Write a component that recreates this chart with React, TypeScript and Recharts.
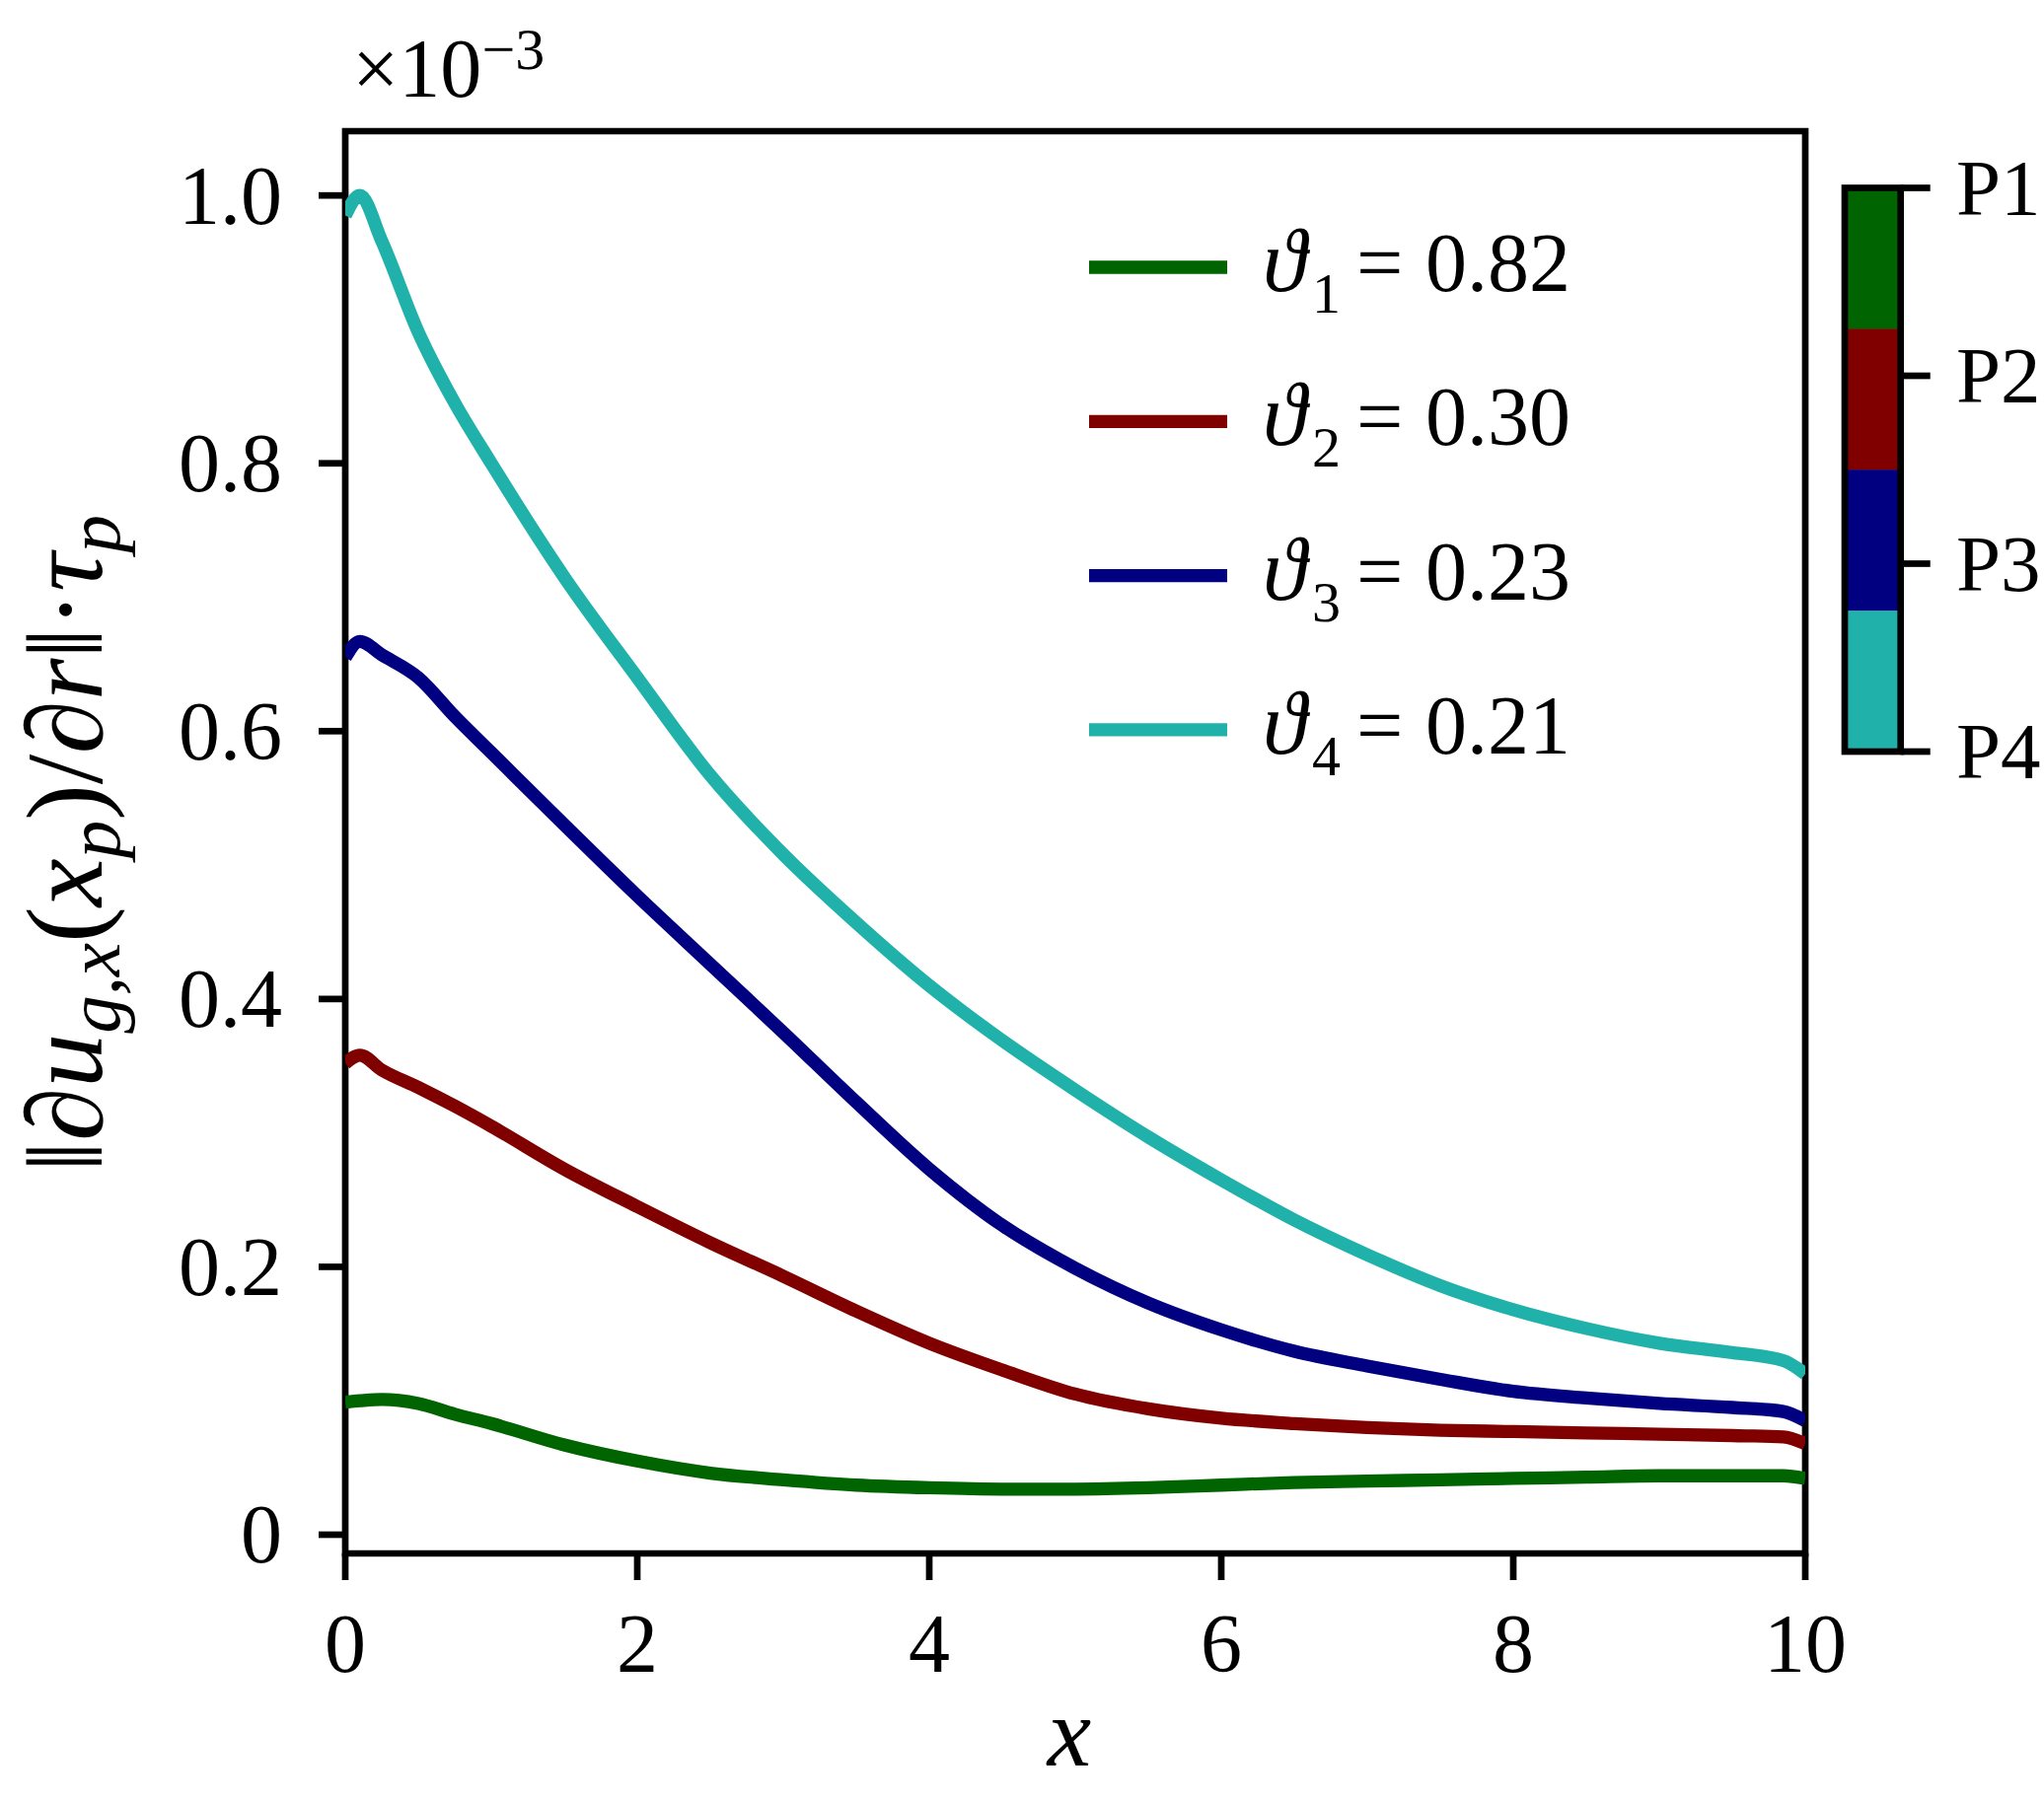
import React from 'react'
import { LineChart, Line, XAxis, YAxis, ReferenceArea, Legend } from 'recharts'

// x positions shared by all four curves
const xValues = [0, 0.1, 0.25, 0.5, 0.75, 1, 1.5, 2, 2.5, 3, 3.5, 4, 4.5, 5, 5.5, 6, 6.5, 7, 7.5, 8, 8.5, 9, 9.5, 9.85, 10]

// values in units of 1e-3
const theta1 = [0.099, 0.1, 0.101, 0.098, 0.09, 0.083, 0.067, 0.055, 0.046, 0.041, 0.037, 0.035, 0.034, 0.034, 0.035, 0.037, 0.039, 0.04, 0.041, 0.042, 0.043, 0.044, 0.044, 0.044, 0.042]
const theta2 = [0.352, 0.358, 0.347, 0.334, 0.32, 0.305, 0.273, 0.245, 0.218, 0.193, 0.167, 0.143, 0.123, 0.105, 0.094, 0.087, 0.083, 0.08, 0.078, 0.077, 0.076, 0.075, 0.074, 0.073, 0.068]
const theta3 = [0.655, 0.667, 0.657, 0.64, 0.611, 0.584, 0.53, 0.477, 0.426, 0.375, 0.323, 0.273, 0.231, 0.199, 0.173, 0.153, 0.137, 0.126, 0.116, 0.107, 0.102, 0.098, 0.095, 0.092, 0.085]
const theta4 = [0.985, 1.0, 0.966, 0.898, 0.845, 0.8, 0.715, 0.64, 0.567, 0.508, 0.457, 0.41, 0.369, 0.332, 0.297, 0.265, 0.235, 0.209, 0.186, 0.168, 0.154, 0.143, 0.136, 0.13, 0.12]

const seriesNames = ['0.82', '0.30', '0.23', '0.21']
const seriesColors = ['#006400', '#800000', '#000080', '#20b2aa']
const seriesKeys = ['t1', 't2', 't3', 't4']

const xTicks = [0, 2, 4, 6, 8, 10]
const yTicks = [0, 0.2, 0.4, 0.6, 0.8, 1.0]
const yTickLabels = ['0', '0.2', '0.4', '0.6', '0.8', '1.0']
const colorbarLabels = ['P1', 'P2', 'P3', 'P4']

const data = xValues.map((x, i) => ({
  x,
  t1: theta1[i],
  t2: theta2[i],
  t3: theta3[i],
  t4: theta4[i]
}))

const W = 2072
const H = 1826
const yMin = -0.014
const yMax = 1.048
const FONT = "'Liberation Serif', 'Times New Roman', Tinos, 'DejaVu Serif', serif"
const FS = 84
const txt = { fontFamily: FONT }

const XTick = (props: any) => {
  const { x, y, payload } = props
  return (
    <text x={x} y={y + 93} textAnchor='middle' style={txt} fontSize={FS} fill='#000'>
      {payload.value}
    </text>
  )
}

const YTick = (props: any) => {
  const { x, y, payload } = props
  const idx = yTicks.findIndex((t) => Math.abs(t - payload.value) < 1e-9)
  return (
    <text x={x} y={y} textAnchor='end' dominantBaseline='central' style={txt} fontSize={FS} fill='#000'>
      {idx >= 0 ? yTickLabels[idx] : payload.value}
    </text>
  )
}

// legend box sits at (1090, 200) on the page
const LEG_X = 1090
const LEG_Y = 200

const renderLegend = (props: any) => {
  const payload = [...(props.payload || [])].sort(
    (a: any, b: any) => seriesKeys.indexOf(a.dataKey) - seriesKeys.indexOf(b.dataKey)
  )
  return (
    <svg width={560} height={620} style={{ overflow: 'visible' }}>
      {payload.map((entry: any, i: number) => {
        const cy = 271 - LEG_Y + i * 156.3
        return (
          <g key={i}>
            <line x1={1104 - LEG_X} x2={1244 - LEG_X} y1={cy} y2={cy} stroke={entry.color} strokeWidth={13.3} />
            <text y={cy + 24} style={txt} fontSize={FS} fill='#000'>
              <tspan x={1280 - LEG_X} fontStyle='italic' fontSize={90}>ϑ</tspan>
              <tspan x={1330 - LEG_X} dy={22} fontSize={58}>{i + 1}</tspan>
              <tspan x={1375 - LEG_X} dy={-22}>=</tspan>
              <tspan x={1445 - LEG_X}>{entry.value}</tspan>
            </text>
          </g>
        )
      })}
    </svg>
  )
}

const Overlay = () => {
  const cbTop = 190.5
  const cbBottom = 762
  const cbLeft = 1870
  const cbRight = 1926.7
  const seg = (cbBottom - cbTop) / 4
  const tickStep = (cbBottom - cbTop) / 3
  return (
    <svg
      width={W}
      height={H}
      style={{ position: 'absolute', left: 0, top: 0, pointerEvents: 'none' }}
    >
      {/* multiplier above the axis */}
      <text x={357} y={98} style={txt} fontSize={FS} fill='#000'>
        ×10<tspan dy={-28} fontSize={60}>−3</tspan>
      </text>

      {/* y label */}
      <text
        transform='translate(103, 855) rotate(-90)'
        textAnchor='middle'
        style={txt}
        fontSize={110}
        fill='#000'
      >
        ‖∂<tspan fontStyle='italic'>u</tspan>
        <tspan dy={18} fontSize={77} fontStyle='italic'>g,x</tspan>
        <tspan dy={-18}>(</tspan>
        <tspan fontStyle='italic'>x</tspan>
        <tspan dy={18} fontSize={77} fontStyle='italic'>p</tspan>
        <tspan dy={-18}>)/∂</tspan>
        <tspan fontStyle='italic'>r</tspan>
        <tspan>‖·</tspan>
        <tspan fontStyle='italic'>τ</tspan>
        <tspan dy={18} fontSize={77} fontStyle='italic'>p</tspan>
      </text>

      {/* x label */}
      <text x={1084} y={1790} textAnchor='middle' style={txt} fontStyle='italic' fontSize={100} fill='#000'>
        x
      </text>

      {/* colorbar */}
      {seriesColors.map((c, i) => (
        <rect key={c} x={cbLeft} y={cbTop + i * seg} width={cbRight - cbLeft} height={seg + 0.5} fill={c} />
      ))}
      <rect x={cbLeft} y={cbTop} width={cbRight - cbLeft} height={cbBottom - cbTop} fill='none' stroke='#000' strokeWidth={6.7} />
      {colorbarLabels.map((lab, i) => {
        const ty = cbTop + i * tickStep
        return (
          <g key={lab}>
            <line x1={cbRight} x2={cbRight + 30} y1={ty} y2={ty} stroke='#000' strokeWidth={6.7} />
            <text x={1983} y={ty} dominantBaseline='central' style={txt} fontSize={81} fill='#000'>
              {lab}
            </text>
          </g>
        )
      })}
    </svg>
  )
}

const App: React.FC = () => {
  return (
    <div style={{ position: 'absolute', left: 0, top: 0, width: W, height: H, background: '#fff' }}>
      <LineChart
        width={W}
        height={H}
        data={data}
        margin={{ top: 133, right: 242, bottom: 151, left: 230 }}
      >
        <XAxis
          dataKey='x'
          type='number'
          domain={[0, 10]}
          ticks={xTicks}
          allowDataOverflow
          axisLine={false}
          tickLine={{ stroke: '#000', strokeWidth: 6.7 }}
          tickSize={27}
          tickMargin={0}
          height={100}
          interval={0}
          tick={<XTick />}
        />
        <YAxis
          type='number'
          domain={[yMin, yMax]}
          ticks={yTicks}
          allowDataOverflow
          axisLine={false}
          tickLine={{ stroke: '#000', strokeWidth: 6.7 }}
          tickSize={27}
          tickMargin={37}
          width={120}
          interval={0}
          tick={<YTick />}
        />
        {seriesKeys.map((k, i) => (
          <Line
            key={k}
            type='monotone'
            dataKey={k}
            name={seriesNames[i]}
            stroke={seriesColors[i]}
            strokeWidth={13.3}
            dot={false}
            activeDot={false}
            isAnimationActive={false}
          />
        ))}
        <ReferenceArea
          x1={0}
          x2={10}
          y1={yMin}
          y2={yMax}
          fill='none'
          fillOpacity={0}
          stroke='#000'
          strokeWidth={6.7}
          ifOverflow='visible'
        />
        <Legend
          layout='horizontal'
          verticalAlign='middle'
          align='center'
          content={renderLegend}
          wrapperStyle={{ position: 'absolute', left: LEG_X, top: LEG_Y, width: 560, height: 620 }}
        />
      </LineChart>
      <Overlay />
    </div>
  )
}

export default App
